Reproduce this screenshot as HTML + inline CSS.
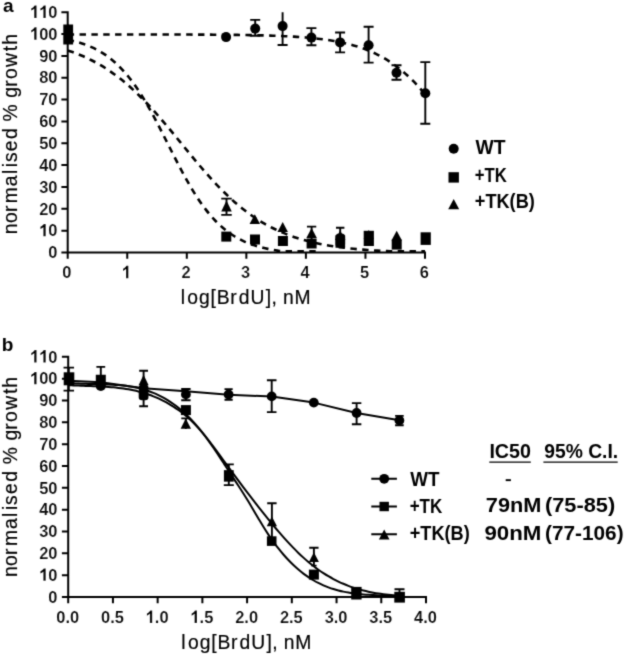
<!DOCTYPE html>
<html lang="en"><head><meta charset="utf-8"><title>BrdU dose response</title>
<style>html,body{margin:0;padding:0;background:#fff;}body{width:626px;height:656px;overflow:hidden;}svg{display:block;}svg text{font-family:"Liberation Sans", sans-serif;fill:#000;}</style>
</head><body>
<svg width="626" height="656" viewBox="0 0 626 656">
<defs><filter id="soft" x="0" y="0" width="626" height="656" filterUnits="userSpaceOnUse"><feConvolveMatrix order="3" kernelMatrix="1 4 1 4 20 4 1 4 1" divisor="40" edgeMode="none" preserveAlpha="false"/></filter></defs>
<rect x="0" y="0" width="626" height="656" fill="#fff"/>
<g filter="url(#soft)">
<g id="chart-a">
<g fill="none" stroke="#000" stroke-width="2.00" stroke-linecap="butt">
<path d="M67.70 11.20 V252.50 H426.00 M67.70 252.50 H61.40 M67.70 230.65 H61.40 M67.70 208.81 H61.40 M67.70 186.96 H61.40 M67.70 165.12 H61.40 M67.70 143.27 H61.40 M67.70 121.43 H61.40 M67.70 99.58 H61.40 M67.70 77.74 H61.40 M67.70 55.89 H61.40 M67.70 34.05 H61.40 M67.70 12.20 H61.40 M67.70 252.50 V258.80 M127.25 252.50 V258.80 M186.80 252.50 V258.80 M246.35 252.50 V258.80 M305.90 252.50 V258.80 M365.45 252.50 V258.80 M425.00 252.50 V258.80"/>
</g>
<g transform="translate(57.50 258.20) scale(0.9450 1)">
<text x="-9.68" y="0" font-size="17.40" font-weight="bold" stroke="#fff" stroke-width="0.12">0</text>
</g>
<g transform="translate(57.50 236.35) scale(0.9450 1)">
<text x="-9.68" y="0" font-size="17.40" font-weight="bold" stroke="#fff" stroke-width="0.12">0</text>
<path transform="translate(-19.35 0) scale(0.00850 -0.00850)" d="M806 0H518V1085Q360 937 147 867V1128Q259 1165 391 1267Q523 1369 572 1466H806Z" fill="#000" stroke="#fff" stroke-width="14.1"/>
</g>
<g transform="translate(57.50 214.51) scale(0.9450 1)">
<text x="-19.35 -9.68" y="0" font-size="17.40" font-weight="bold" stroke="#fff" stroke-width="0.12">20</text>
</g>
<g transform="translate(57.50 192.66) scale(0.9450 1)">
<text x="-19.35 -9.68" y="0" font-size="17.40" font-weight="bold" stroke="#fff" stroke-width="0.12">30</text>
</g>
<g transform="translate(57.50 170.82) scale(0.9450 1)">
<text x="-19.35 -9.68" y="0" font-size="17.40" font-weight="bold" stroke="#fff" stroke-width="0.12">40</text>
</g>
<g transform="translate(57.50 148.97) scale(0.9450 1)">
<text x="-19.35 -9.68" y="0" font-size="17.40" font-weight="bold" stroke="#fff" stroke-width="0.12">50</text>
</g>
<g transform="translate(57.50 127.13) scale(0.9450 1)">
<text x="-19.35 -9.68" y="0" font-size="17.40" font-weight="bold" stroke="#fff" stroke-width="0.12">60</text>
</g>
<g transform="translate(57.50 105.28) scale(0.9450 1)">
<text x="-19.35 -9.68" y="0" font-size="17.40" font-weight="bold" stroke="#fff" stroke-width="0.12">70</text>
</g>
<g transform="translate(57.50 83.44) scale(0.9450 1)">
<text x="-19.35 -9.68" y="0" font-size="17.40" font-weight="bold" stroke="#fff" stroke-width="0.12">80</text>
</g>
<g transform="translate(57.50 61.59) scale(0.9450 1)">
<text x="-19.35 -9.68" y="0" font-size="17.40" font-weight="bold" stroke="#fff" stroke-width="0.12">90</text>
</g>
<g transform="translate(57.50 39.75) scale(0.9450 1)">
<text x="-19.35 -9.68" y="0" font-size="17.40" font-weight="bold" stroke="#fff" stroke-width="0.12">00</text>
<path transform="translate(-29.03 0) scale(0.00850 -0.00850)" d="M806 0H518V1085Q360 937 147 867V1128Q259 1165 391 1267Q523 1369 572 1466H806Z" fill="#000" stroke="#fff" stroke-width="14.1"/>
</g>
<g transform="translate(57.50 17.90) scale(0.9450 1)">
<text x="-9.68" y="0" font-size="17.40" font-weight="bold" stroke="#fff" stroke-width="0.12">0</text>
<path transform="translate(-29.03 0) scale(0.00850 -0.00850)" d="M806 0H518V1085Q360 937 147 867V1128Q259 1165 391 1267Q523 1369 572 1466H806Z" fill="#000" stroke="#fff" stroke-width="14.1"/>
<path transform="translate(-19.35 0) scale(0.00850 -0.00850)" d="M806 0H518V1085Q360 937 147 867V1128Q259 1165 391 1267Q523 1369 572 1466H806Z" fill="#000" stroke="#fff" stroke-width="14.1"/>
</g>
<g transform="translate(66.90 278.30) scale(0.9450 1)">
<text x="-4.84" y="0" font-size="17.40" font-weight="bold" stroke="#fff" stroke-width="0.12">0</text>
</g>
<g transform="translate(126.45 278.30) scale(0.9450 1)">
<path transform="translate(-4.84 0) scale(0.00850 -0.00850)" d="M806 0H518V1085Q360 937 147 867V1128Q259 1165 391 1267Q523 1369 572 1466H806Z" fill="#000" stroke="#fff" stroke-width="14.1"/>
</g>
<g transform="translate(186.00 278.30) scale(0.9450 1)">
<text x="-4.84" y="0" font-size="17.40" font-weight="bold" stroke="#fff" stroke-width="0.12">2</text>
</g>
<g transform="translate(245.55 278.30) scale(0.9450 1)">
<text x="-4.84" y="0" font-size="17.40" font-weight="bold" stroke="#fff" stroke-width="0.12">3</text>
</g>
<g transform="translate(305.10 278.30) scale(0.9450 1)">
<text x="-4.84" y="0" font-size="17.40" font-weight="bold" stroke="#fff" stroke-width="0.12">4</text>
</g>
<g transform="translate(364.65 278.30) scale(0.9450 1)">
<text x="-4.84" y="0" font-size="17.40" font-weight="bold" stroke="#fff" stroke-width="0.12">5</text>
</g>
<g transform="translate(424.20 278.30) scale(0.9450 1)">
<text x="-4.84" y="0" font-size="17.40" font-weight="bold" stroke="#fff" stroke-width="0.12">6</text>
</g>
<g transform="translate(17.2 234.13) rotate(-90)">
<text x="0.00 11.06 22.04 30.94 47.85 60.03 66.99 72.04 82.88 95.08 106.00 112.75 131.00 136.43 147.29 155.06 167.10 182.87 189.27" y="0.00" font-size="19.30" font-weight="normal" stroke="#000" stroke-width="0.2" stroke-linejoin="round">normalised % growth</text>
</g>
<text x="180.65 187.18 198.95 210.61 216.68 230.21 238.75 250.53 265.83 271.62 277.00 283.12 294.56" y="304.40" font-size="19.30" font-weight="normal" stroke="#000" stroke-width="0.2" stroke-linejoin="round">log[BrdU], nM</text>
<text x="2.90" y="12.20" font-size="19.00" font-weight="bold" text-anchor="start" stroke="none">a</text>
<g fill="none" stroke="#000" stroke-width="2.6" stroke-dasharray="6.4 5.45">
<path d="M67.70 34.45 C68.69 34.45 71.67 34.45 73.66 34.45 C75.64 34.45 77.62 34.45 79.61 34.45 C81.59 34.45 83.58 34.45 85.56 34.45 C87.55 34.45 89.54 34.45 91.52 34.45 C93.51 34.45 95.49 34.46 97.47 34.46 C99.46 34.46 101.45 34.46 103.43 34.46 C105.42 34.46 107.40 34.46 109.38 34.46 C111.37 34.46 113.36 34.46 115.34 34.46 C117.33 34.46 119.31 34.46 121.29 34.47 C123.28 34.47 125.27 34.47 127.25 34.47 C129.24 34.47 131.22 34.47 133.20 34.47 C135.19 34.47 137.17 34.48 139.16 34.48 C141.15 34.48 143.13 34.48 145.12 34.48 C147.10 34.49 149.08 34.49 151.07 34.49 C153.06 34.49 155.04 34.49 157.03 34.50 C159.01 34.50 161.00 34.50 162.98 34.51 C164.97 34.51 166.95 34.51 168.94 34.52 C170.92 34.52 172.91 34.53 174.89 34.53 C176.88 34.54 178.86 34.54 180.85 34.55 C182.83 34.55 184.81 34.56 186.80 34.56 C188.79 34.57 190.77 34.58 192.76 34.58 C194.74 34.59 196.73 34.60 198.71 34.61 C200.70 34.62 202.68 34.63 204.67 34.64 C206.65 34.65 208.64 34.66 210.62 34.67 C212.61 34.69 214.59 34.70 216.58 34.71 C218.56 34.73 220.55 34.74 222.53 34.76 C224.52 34.78 226.50 34.80 228.49 34.82 C230.47 34.84 232.46 34.86 234.44 34.88 C236.43 34.91 238.41 34.93 240.40 34.96 C242.38 34.99 244.37 35.02 246.35 35.05 C248.34 35.08 250.32 35.12 252.31 35.16 C254.29 35.20 256.28 35.24 258.26 35.28 C260.25 35.33 262.23 35.38 264.22 35.43 C266.20 35.49 268.19 35.54 270.17 35.61 C272.16 35.67 274.14 35.74 276.13 35.81 C278.11 35.89 280.10 35.97 282.08 36.05 C284.07 36.14 286.05 36.23 288.04 36.34 C290.02 36.44 292.01 36.55 293.99 36.67 C295.98 36.79 297.96 36.92 299.95 37.06 C301.93 37.20 303.92 37.35 305.90 37.52 C307.89 37.68 309.87 37.86 311.86 38.05 C313.84 38.25 315.83 38.45 317.81 38.68 C319.80 38.91 321.78 39.15 323.77 39.42 C325.75 39.68 327.74 39.96 329.72 40.27 C331.70 40.59 333.69 40.92 335.67 41.28 C337.66 41.64 339.64 42.03 341.63 42.45 C343.61 42.87 345.60 43.32 347.58 43.81 C349.57 44.30 351.55 44.82 353.54 45.39 C355.52 45.95 357.51 46.56 359.49 47.22 C361.48 47.87 363.46 48.57 365.45 49.33 C367.43 50.09 369.42 50.89 371.40 51.76 C373.39 52.63 375.37 53.56 377.36 54.56 C379.34 55.55 381.33 56.61 383.31 57.75 C385.30 58.88 387.28 60.09 389.27 61.37 C391.25 62.66 393.24 64.03 395.22 65.48 C397.21 66.93 399.19 68.46 401.18 70.09 C403.16 71.72 405.15 73.43 407.13 75.24 C409.12 77.05 411.10 78.95 413.09 80.94 C415.07 82.94 417.06 85.03 419.04 87.21 C421.03 89.39 424.01 92.89 425.00 94.02"/>
<path d="M67.70 39.73 C68.49 39.91 70.88 40.40 72.46 40.78 C74.05 41.17 75.64 41.57 77.23 42.02 C78.82 42.47 80.40 42.95 81.99 43.47 C83.58 43.99 85.17 44.55 86.76 45.17 C88.34 45.78 89.93 46.43 91.52 47.14 C93.11 47.85 94.70 48.61 96.28 49.44 C97.87 50.27 99.46 51.15 101.05 52.10 C102.64 53.06 104.22 54.07 105.81 55.17 C107.40 56.27 108.99 57.44 110.58 58.70 C112.16 59.96 113.75 61.30 115.34 62.73 C116.93 64.16 118.52 65.68 120.10 67.30 C121.69 68.92 123.28 70.63 124.87 72.45 C126.46 74.27 128.04 76.19 129.63 78.21 C131.22 80.23 132.81 82.36 134.40 84.59 C135.98 86.82 137.57 89.15 139.16 91.58 C140.75 94.02 142.34 96.55 143.92 99.18 C145.51 101.80 147.10 104.53 148.69 107.32 C150.28 110.11 151.86 113.00 153.45 115.94 C155.04 118.88 156.63 121.91 158.22 124.96 C159.80 128.01 161.39 131.12 162.98 134.24 C164.57 137.36 166.16 140.53 167.74 143.68 C169.33 146.82 170.92 149.99 172.51 153.12 C174.10 156.25 175.68 159.38 177.27 162.44 C178.86 165.50 180.45 168.54 182.04 171.50 C183.62 174.46 185.21 177.37 186.80 180.19 C188.39 183.01 189.98 185.76 191.56 188.41 C193.15 191.06 194.74 193.63 196.33 196.09 C197.92 198.55 199.50 200.92 201.09 203.18 C202.68 205.44 204.27 207.60 205.86 209.65 C207.44 211.70 209.03 213.65 210.62 215.50 C212.21 217.35 213.80 219.09 215.38 220.74 C216.97 222.39 218.56 223.93 220.15 225.39 C221.74 226.85 223.32 228.22 224.91 229.50 C226.50 230.79 228.09 231.98 229.68 233.10 C231.26 234.22 232.85 235.26 234.44 236.24 C236.03 237.21 237.62 238.11 239.20 238.96 C240.79 239.80 242.38 240.58 243.97 241.31 C245.56 242.04 247.14 242.70 248.73 243.33 C250.32 243.96 251.91 244.53 253.50 245.07 C255.08 245.60 256.67 246.09 258.26 246.55 C259.85 247.01 261.44 247.42 263.02 247.82 C264.61 248.21 266.20 248.56 267.79 248.89 C269.38 249.23 270.96 249.53 272.55 249.81 C274.14 250.10 275.73 250.36 277.32 250.59 C278.90 250.82 280.49 251.10 282.08 251.20 C283.67 251.30 285.26 251.20 286.84 251.20 C288.43 251.20 290.02 251.20 291.61 251.20 C293.20 251.20 294.78 251.20 296.37 251.20 C297.96 251.20 299.55 251.20 301.14 251.20 C302.72 251.20 304.31 251.20 305.90 251.20 C307.49 251.20 309.08 251.20 310.66 251.20 C312.25 251.20 313.84 251.20 315.43 251.20 C317.02 251.20 319.40 251.20 320.19 251.20"/>
<path d="M67.70 50.45 C68.49 50.72 70.88 51.52 72.46 52.09 C74.05 52.66 75.64 53.25 77.23 53.87 C78.82 54.50 80.40 55.15 81.99 55.82 C83.58 56.50 85.17 57.21 86.76 57.95 C88.34 58.69 89.93 59.46 91.52 60.26 C93.11 61.07 94.70 61.90 96.28 62.77 C97.87 63.64 99.46 64.55 101.05 65.49 C102.64 66.43 104.22 67.41 105.81 68.42 C107.40 69.44 108.99 70.49 110.58 71.58 C112.16 72.67 113.75 73.80 115.34 74.97 C116.93 76.14 118.52 77.34 120.10 78.59 C121.69 79.84 123.28 81.13 124.87 82.46 C126.46 83.78 128.04 85.15 129.63 86.56 C131.22 87.96 132.81 89.41 134.40 90.89 C135.98 92.38 137.57 93.90 139.16 95.46 C140.75 97.02 142.34 98.62 143.92 100.25 C145.51 101.88 147.10 103.55 148.69 105.25 C150.28 106.95 151.86 108.68 153.45 110.44 C155.04 112.20 156.63 113.99 158.22 115.81 C159.80 117.62 161.39 119.46 162.98 121.32 C164.57 123.18 166.16 125.06 167.74 126.96 C169.33 128.85 170.92 130.77 172.51 132.69 C174.10 134.61 175.68 136.54 177.27 138.48 C178.86 140.42 180.45 142.37 182.04 144.31 C183.62 146.25 185.21 148.20 186.80 150.13 C188.39 152.07 189.98 154.00 191.56 155.92 C193.15 157.84 194.74 159.75 196.33 161.64 C197.92 163.54 199.50 165.42 201.09 167.27 C202.68 169.12 204.27 170.96 205.86 172.77 C207.44 174.58 209.03 176.36 210.62 178.12 C212.21 179.87 213.80 181.60 215.38 183.29 C216.97 184.98 218.56 186.64 220.15 188.27 C221.74 189.89 223.32 191.48 224.91 193.04 C226.50 194.59 228.09 196.10 229.68 197.58 C231.26 199.06 232.85 200.50 234.44 201.90 C236.03 203.29 237.62 204.65 239.20 205.97 C240.79 207.29 242.38 208.57 243.97 209.81 C245.56 211.05 247.14 212.25 248.73 213.41 C250.32 214.57 251.91 215.69 253.50 216.78 C255.08 217.86 256.67 218.90 258.26 219.91 C259.85 220.92 261.44 221.89 263.02 222.82 C264.61 223.76 266.20 224.65 267.79 225.52 C269.38 226.38 270.96 227.21 272.55 228.01 C274.14 228.80 275.73 229.57 277.32 230.30 C278.90 231.03 280.49 231.74 282.08 232.41 C283.67 233.08 285.26 233.73 286.84 234.34 C288.43 234.96 290.02 235.55 291.61 236.11 C293.20 236.68 294.78 237.22 296.37 237.73 C297.96 238.25 299.55 238.74 301.14 239.21 C302.72 239.68 304.31 240.13 305.90 240.56 C307.49 240.99 309.08 241.39 310.66 241.78 C312.25 242.17 313.84 242.54 315.43 242.90 C317.02 243.25 318.60 243.59 320.19 243.91 C321.78 244.23 323.37 244.54 324.96 244.83 C326.54 245.12 328.13 245.40 329.72 245.66 C331.31 245.92 332.90 246.17 334.48 246.41 C336.07 246.65 337.66 246.88 339.25 247.10 C340.84 247.31 342.42 247.52 344.01 247.71 C345.60 247.91 347.19 248.09 348.78 248.27 C350.36 248.45 351.95 248.61 353.54 248.77 C355.13 248.93 356.72 249.08 358.30 249.23 C359.89 249.37 361.48 249.51 363.07 249.64 C364.66 249.77 366.24 249.89 367.83 250.01 C369.42 250.12 371.01 250.24 372.60 250.34 C374.18 250.45 375.77 250.55 377.36 250.64 C378.95 250.74 380.54 250.83 382.12 250.91 C383.71 251.00 385.30 251.11 386.89 251.16 C388.48 251.21 390.06 251.19 391.65 251.20 C393.24 251.21 394.83 251.20 396.42 251.20 C398.00 251.20 399.59 251.20 401.18 251.20 C402.77 251.20 404.36 251.20 405.94 251.20 C407.53 251.20 409.12 251.20 410.71 251.20 C412.30 251.20 413.88 251.20 415.47 251.20 C417.06 251.20 418.65 251.20 420.24 251.20 C421.82 251.20 424.21 251.20 425.00 251.20"/>
</g>
<g fill="#000" stroke="none">
<rect x="63.30" y="24.50" width="9.80" height="20.00"/>
<path fill="none" stroke="#000" stroke-width="1.90" d="M68.00 24.50 V44.00"/>
<circle cx="226.10" cy="37.10" r="5.00"/>
<path fill="none" stroke="#000" stroke-width="1.90" d="M255.20 19.90 V35.80 M250.20 19.90 H260.20 M250.20 35.80 H260.20"/>
<circle cx="255.20" cy="28.60" r="5.00"/>
<path fill="none" stroke="#000" stroke-width="1.90" d="M282.60 12.30 V45.00 M277.60 45.00 H287.60"/>
<circle cx="282.60" cy="26.10" r="5.00"/>
<path fill="none" stroke="#000" stroke-width="1.90" d="M311.40 28.10 V45.20 M306.40 28.10 H316.40 M306.40 45.20 H316.40"/>
<circle cx="311.40" cy="37.60" r="5.00"/>
<path fill="none" stroke="#000" stroke-width="1.90" d="M340.10 32.50 V52.40 M335.10 32.50 H345.10 M335.10 52.40 H345.10"/>
<circle cx="340.10" cy="42.40" r="5.00"/>
<path fill="none" stroke="#000" stroke-width="1.90" d="M368.60 26.80 V62.60 M363.60 26.80 H373.60 M363.60 62.60 H373.60"/>
<circle cx="368.60" cy="45.20" r="5.00"/>
<path fill="none" stroke="#000" stroke-width="1.90" d="M396.50 65.20 V79.70 M391.50 65.20 H401.50 M391.50 79.70 H401.50"/>
<circle cx="396.50" cy="72.80" r="5.00"/>
<path fill="none" stroke="#000" stroke-width="1.90" d="M425.30 62.10 V123.70 M420.30 62.10 H430.30 M420.30 123.70 H430.30"/>
<circle cx="425.30" cy="93.30" r="5.00"/>
<path fill="none" stroke="#000" stroke-width="1.90" d="M226.50 198.60 V214.90 M221.25 198.60 H231.75 M221.25 214.90 H231.75"/>
<path d="M226.50 200.50 L231.75 211.50 L221.25 211.50 Z"/>
<path d="M254.80 214.30 L260.05 223.90 L249.55 223.90 Z"/>
<path d="M282.70 221.90 L287.95 231.90 L277.45 231.90 Z"/>
<path fill="none" stroke="#000" stroke-width="1.90" d="M311.60 226.60 V240.00 M306.95 226.60 H316.25"/>
<path d="M311.60 228.00 L316.85 238.00 L306.35 238.00 Z"/>
<path fill="none" stroke="#000" stroke-width="1.90" d="M340.20 227.80 V240.00 M336.00 227.80 H344.40"/>
<path d="M340.20 230.50 L345.45 240.00 L334.95 240.00 Z"/>
<path d="M368.80 230.00 L374.05 239.00 L363.55 239.00 Z"/>
<path d="M396.70 230.70 L401.95 240.50 L391.45 240.50 Z"/>
<rect x="221.30" y="231.60" width="10.00" height="10.00"/>
<rect x="250.00" y="234.50" width="10.00" height="10.00"/>
<rect x="277.90" y="236.00" width="10.00" height="10.00"/>
<rect x="306.60" y="238.50" width="10.00" height="10.00"/>
<rect x="335.50" y="235.25" width="9.60" height="12.50"/>
<rect x="335.5" y="233.5" width="9.6" height="14" rx="3.5"/>
<rect x="363.70" y="230.80" width="10.20" height="15.20"/>
<rect x="391.70" y="239.60" width="10.00" height="10.00"/>
<rect x="420.60" y="232.30" width="10.20" height="12.60"/>
</g>
<g fill="#000">
<circle cx="453.70" cy="148.80" r="5.00"/>
<rect x="448.50" y="172.20" width="10.40" height="10.40"/>
<path d="M453.70 199.10 L459.20 209.30 L448.20 209.30 Z"/>
</g>
<text x="475.60" y="153.80" font-size="20.00" font-weight="bold" text-anchor="start" textLength="30.00" lengthAdjust="spacingAndGlyphs">WT</text>
<text x="474.80" y="182.20" font-size="20.00" font-weight="bold" text-anchor="start" textLength="32.00" lengthAdjust="spacingAndGlyphs">+TK</text>
<text x="474.80" y="208.30" font-size="20.00" font-weight="bold" text-anchor="start" textLength="60.00" lengthAdjust="spacingAndGlyphs">+TK(B)</text>
</g>
<g id="chart-b">
<g fill="none" stroke="#000" stroke-width="2.00" stroke-linecap="butt">
<path d="M68.20 355.80 V597.00 H427.00 M68.20 597.00 H61.90 M68.20 575.16 H61.90 M68.20 553.33 H61.90 M68.20 531.49 H61.90 M68.20 509.65 H61.90 M68.20 487.82 H61.90 M68.20 465.98 H61.90 M68.20 444.15 H61.90 M68.20 422.31 H61.90 M68.20 400.47 H61.90 M68.20 378.64 H61.90 M68.20 356.80 H61.90 M68.20 597.00 V603.30 M112.93 597.00 V603.30 M157.65 597.00 V603.30 M202.38 597.00 V603.30 M247.10 597.00 V603.30 M291.82 597.00 V603.30 M336.55 597.00 V603.30 M381.27 597.00 V603.30 M426.00 597.00 V603.30"/>
</g>
<g transform="translate(57.50 602.70) scale(0.9450 1)">
<text x="-9.68" y="0" font-size="17.40" font-weight="bold" stroke="#fff" stroke-width="0.12">0</text>
</g>
<g transform="translate(57.50 580.86) scale(0.9450 1)">
<text x="-9.68" y="0" font-size="17.40" font-weight="bold" stroke="#fff" stroke-width="0.12">0</text>
<path transform="translate(-19.35 0) scale(0.00850 -0.00850)" d="M806 0H518V1085Q360 937 147 867V1128Q259 1165 391 1267Q523 1369 572 1466H806Z" fill="#000" stroke="#fff" stroke-width="14.1"/>
</g>
<g transform="translate(57.50 559.03) scale(0.9450 1)">
<text x="-19.35 -9.68" y="0" font-size="17.40" font-weight="bold" stroke="#fff" stroke-width="0.12">20</text>
</g>
<g transform="translate(57.50 537.19) scale(0.9450 1)">
<text x="-19.35 -9.68" y="0" font-size="17.40" font-weight="bold" stroke="#fff" stroke-width="0.12">30</text>
</g>
<g transform="translate(57.50 515.35) scale(0.9450 1)">
<text x="-19.35 -9.68" y="0" font-size="17.40" font-weight="bold" stroke="#fff" stroke-width="0.12">40</text>
</g>
<g transform="translate(57.50 493.52) scale(0.9450 1)">
<text x="-19.35 -9.68" y="0" font-size="17.40" font-weight="bold" stroke="#fff" stroke-width="0.12">50</text>
</g>
<g transform="translate(57.50 471.68) scale(0.9450 1)">
<text x="-19.35 -9.68" y="0" font-size="17.40" font-weight="bold" stroke="#fff" stroke-width="0.12">60</text>
</g>
<g transform="translate(57.50 449.85) scale(0.9450 1)">
<text x="-19.35 -9.68" y="0" font-size="17.40" font-weight="bold" stroke="#fff" stroke-width="0.12">70</text>
</g>
<g transform="translate(57.50 428.01) scale(0.9450 1)">
<text x="-19.35 -9.68" y="0" font-size="17.40" font-weight="bold" stroke="#fff" stroke-width="0.12">80</text>
</g>
<g transform="translate(57.50 406.17) scale(0.9450 1)">
<text x="-19.35 -9.68" y="0" font-size="17.40" font-weight="bold" stroke="#fff" stroke-width="0.12">90</text>
</g>
<g transform="translate(57.50 384.34) scale(0.9450 1)">
<text x="-19.35 -9.68" y="0" font-size="17.40" font-weight="bold" stroke="#fff" stroke-width="0.12">00</text>
<path transform="translate(-29.03 0) scale(0.00850 -0.00850)" d="M806 0H518V1085Q360 937 147 867V1128Q259 1165 391 1267Q523 1369 572 1466H806Z" fill="#000" stroke="#fff" stroke-width="14.1"/>
</g>
<g transform="translate(57.50 362.50) scale(0.9450 1)">
<text x="-9.68" y="0" font-size="17.40" font-weight="bold" stroke="#fff" stroke-width="0.12">0</text>
<path transform="translate(-29.03 0) scale(0.00850 -0.00850)" d="M806 0H518V1085Q360 937 147 867V1128Q259 1165 391 1267Q523 1369 572 1466H806Z" fill="#000" stroke="#fff" stroke-width="14.1"/>
<path transform="translate(-19.35 0) scale(0.00850 -0.00850)" d="M806 0H518V1085Q360 937 147 867V1128Q259 1165 391 1267Q523 1369 572 1466H806Z" fill="#000" stroke="#fff" stroke-width="14.1"/>
</g>
<g transform="translate(67.70 623.00) scale(0.9450 1)">
<text x="-12.09 -2.42 2.42" y="0" font-size="17.40" font-weight="bold" stroke="#fff" stroke-width="0.12">0.0</text>
</g>
<g transform="translate(112.43 623.00) scale(0.9450 1)">
<text x="-12.09 -2.42 2.42" y="0" font-size="17.40" font-weight="bold" stroke="#fff" stroke-width="0.12">0.5</text>
</g>
<g transform="translate(157.15 623.00) scale(0.9450 1)">
<text x="-2.42 2.42" y="0" font-size="17.40" font-weight="bold" stroke="#fff" stroke-width="0.12">.0</text>
<path transform="translate(-12.09 0) scale(0.00850 -0.00850)" d="M806 0H518V1085Q360 937 147 867V1128Q259 1165 391 1267Q523 1369 572 1466H806Z" fill="#000" stroke="#fff" stroke-width="14.1"/>
</g>
<g transform="translate(201.88 623.00) scale(0.9450 1)">
<text x="-2.42 2.42" y="0" font-size="17.40" font-weight="bold" stroke="#fff" stroke-width="0.12">.5</text>
<path transform="translate(-12.09 0) scale(0.00850 -0.00850)" d="M806 0H518V1085Q360 937 147 867V1128Q259 1165 391 1267Q523 1369 572 1466H806Z" fill="#000" stroke="#fff" stroke-width="14.1"/>
</g>
<g transform="translate(246.60 623.00) scale(0.9450 1)">
<text x="-12.09 -2.42 2.42" y="0" font-size="17.40" font-weight="bold" stroke="#fff" stroke-width="0.12">2.0</text>
</g>
<g transform="translate(291.32 623.00) scale(0.9450 1)">
<text x="-12.09 -2.42 2.42" y="0" font-size="17.40" font-weight="bold" stroke="#fff" stroke-width="0.12">2.5</text>
</g>
<g transform="translate(336.05 623.00) scale(0.9450 1)">
<text x="-12.09 -2.42 2.42" y="0" font-size="17.40" font-weight="bold" stroke="#fff" stroke-width="0.12">3.0</text>
</g>
<g transform="translate(380.77 623.00) scale(0.9450 1)">
<text x="-12.09 -2.42 2.42" y="0" font-size="17.40" font-weight="bold" stroke="#fff" stroke-width="0.12">3.5</text>
</g>
<g transform="translate(425.50 623.00) scale(0.9450 1)">
<text x="-12.09 -2.42 2.42" y="0" font-size="17.40" font-weight="bold" stroke="#fff" stroke-width="0.12">4.0</text>
</g>
<g transform="translate(17.2 576.93) rotate(-90)">
<text x="0.00 11.06 22.04 30.94 47.85 60.03 66.99 72.04 82.88 95.08 106.00 112.75 131.00 136.43 147.29 155.06 167.10 182.87 189.27" y="0.00" font-size="19.30" font-weight="normal" stroke="#000" stroke-width="0.2" stroke-linejoin="round">normalised % growth</text>
</g>
<text x="181.35 187.88 199.65 211.31 217.38 230.91 239.45 251.23 266.53 272.32 277.70 283.82 295.26" y="648.90" font-size="19.30" font-weight="normal" stroke="#000" stroke-width="0.2" stroke-linejoin="round">log[BrdU], nM</text>
<text x="1.80" y="351.30" font-size="19.00" font-weight="bold" text-anchor="start" stroke="none">b</text>
<g fill="none" stroke="#000" stroke-width="2.0" stroke-linejoin="round">
<path d="M68.40 380.70 L100.80 382.30 L143.60 388.30 L185.90 391.20 L228.60 394.70 L271.70 396.50 L313.80 402.60 L356.50 413.00 L399.40 420.30"/>
<path d="M68.40 382.70 C69.23 382.78 71.73 383.03 73.40 383.17 C75.07 383.30 76.73 383.41 78.40 383.51 C80.07 383.60 81.73 383.68 83.40 383.75 C85.07 383.82 86.73 383.87 88.40 383.92 C90.07 383.97 91.73 384.01 93.40 384.06 C95.07 384.10 96.73 384.14 98.40 384.18 C100.07 384.22 101.73 384.26 103.40 384.32 C105.07 384.37 106.73 384.43 108.40 384.50 C110.07 384.57 111.73 384.66 113.40 384.76 C115.07 384.86 116.73 384.98 118.40 385.12 C120.07 385.26 121.73 385.42 123.40 385.61 C125.07 385.80 126.73 386.01 128.40 386.26 C130.07 386.50 131.73 386.78 133.40 387.09 C135.07 387.41 136.73 387.75 138.40 388.14 C140.07 388.54 141.73 388.96 143.40 389.44 C145.07 389.92 146.73 390.44 148.40 391.01 C150.07 391.58 151.73 392.20 153.40 392.88 C155.07 393.56 156.73 394.29 158.40 395.08 C160.07 395.87 161.73 396.72 163.40 397.64 C165.07 398.56 166.73 399.53 168.40 400.58 C170.07 401.64 171.73 402.75 173.40 403.95 C175.07 405.14 176.73 406.40 178.40 407.75 C180.07 409.09 181.73 410.51 183.40 412.01 C185.07 413.51 186.73 415.08 188.40 416.74 C190.07 418.40 191.73 420.13 193.40 421.95 C195.07 423.77 196.73 425.67 198.40 427.65 C200.07 429.63 201.73 431.70 203.40 433.85 C205.07 436.00 206.73 438.25 208.40 440.56 C210.07 442.87 211.73 445.27 213.40 447.71 C215.07 450.14 216.73 452.65 218.40 455.17 C220.07 457.69 221.73 460.26 223.40 462.81 C225.07 465.37 226.73 467.96 228.40 470.51 C230.07 473.07 231.73 475.61 233.40 478.15 C235.07 480.68 236.73 483.18 238.40 485.73 C240.07 488.28 241.73 490.83 243.40 493.46 C245.07 496.09 246.73 498.78 248.40 501.53 C250.07 504.28 251.73 507.14 253.40 509.97 C255.07 512.79 256.73 515.68 258.40 518.49 C260.07 521.29 261.73 524.11 263.40 526.79 C265.07 529.48 266.73 532.10 268.40 534.60 C270.07 537.10 271.73 539.50 273.40 541.81 C275.07 544.12 276.73 546.33 278.40 548.45 C280.07 550.57 281.73 552.59 283.40 554.52 C285.07 556.46 286.73 558.30 288.40 560.06 C290.07 561.82 291.73 563.48 293.40 565.07 C295.07 566.65 296.73 568.15 298.40 569.57 C300.07 570.99 301.73 572.32 303.40 573.58 C305.07 574.84 306.73 576.02 308.40 577.13 C310.07 578.24 311.73 579.28 313.40 580.25 C315.07 581.23 316.73 582.13 318.40 582.97 C320.07 583.82 321.73 584.60 323.40 585.32 C325.07 586.05 326.73 586.72 328.40 587.34 C330.07 587.95 331.73 588.52 333.40 589.04 C335.07 589.56 336.73 590.03 338.40 590.46 C340.07 590.89 341.73 591.28 343.40 591.63 C345.07 591.98 346.73 592.30 348.40 592.58 C350.07 592.87 351.73 593.12 353.40 593.35 C355.07 593.58 356.73 593.77 358.40 593.95 C360.07 594.13 361.73 594.29 363.40 594.43 C365.07 594.57 366.73 594.70 368.40 594.81 C370.07 594.93 371.73 595.02 373.40 595.12 C375.07 595.22 376.73 595.31 378.40 595.39 C380.07 595.48 381.73 595.57 383.40 595.66 C385.07 595.75 386.73 595.84 388.40 595.95 C390.07 596.05 391.73 596.18 393.40 596.29 C395.07 596.40 397.38 596.55 398.40 596.60 C399.42 596.65 399.32 596.60 399.50 596.60"/>
<path d="M68.40 385.14 C69.23 385.18 71.73 385.33 73.40 385.41 C75.07 385.49 76.73 385.56 78.40 385.62 C80.07 385.69 81.73 385.75 83.40 385.81 C85.07 385.86 86.73 385.92 88.40 385.98 C90.07 386.04 91.73 386.09 93.40 386.16 C95.07 386.22 96.73 386.29 98.40 386.37 C100.07 386.44 101.73 386.53 103.40 386.62 C105.07 386.72 106.73 386.83 108.40 386.95 C110.07 387.08 111.73 387.21 113.40 387.37 C115.07 387.52 116.73 387.70 118.40 387.89 C120.07 388.09 121.73 388.30 123.40 388.55 C125.07 388.79 126.73 389.05 128.40 389.35 C130.07 389.65 131.73 389.97 133.40 390.32 C135.07 390.68 136.73 391.06 138.40 391.48 C140.07 391.91 141.73 392.36 143.40 392.86 C145.07 393.35 146.73 393.88 148.40 394.46 C150.07 395.03 151.73 395.65 153.40 396.31 C155.07 396.97 156.73 397.67 158.40 398.43 C160.07 399.19 161.73 399.99 163.40 400.84 C165.07 401.70 166.73 402.60 168.40 403.56 C170.07 404.52 171.73 405.54 173.40 406.61 C175.07 407.69 176.73 408.82 178.40 410.02 C180.07 411.22 181.73 412.48 183.40 413.82 C185.07 415.16 186.73 416.57 188.40 418.08 C190.07 419.58 191.73 421.17 193.40 422.84 C195.07 424.52 196.73 426.29 198.40 428.13 C200.07 429.97 201.73 431.89 203.40 433.89 C205.07 435.88 206.73 437.95 208.40 440.07 C210.07 442.19 211.73 444.39 213.40 446.61 C215.07 448.82 216.73 451.10 218.40 453.36 C220.07 455.63 221.73 457.94 223.40 460.23 C225.07 462.51 226.73 464.80 228.40 467.08 C230.07 469.35 231.73 471.62 233.40 473.88 C235.07 476.13 236.73 478.38 238.40 480.62 C240.07 482.85 241.73 485.08 243.40 487.29 C245.07 489.50 246.73 491.70 248.40 493.89 C250.07 496.08 251.73 498.25 253.40 500.41 C255.07 502.57 256.73 504.72 258.40 506.84 C260.07 508.97 261.73 511.09 263.40 513.18 C265.07 515.28 266.73 517.35 268.40 519.41 C270.07 521.46 271.73 523.49 273.40 525.49 C275.07 527.49 276.73 529.47 278.40 531.41 C280.07 533.35 281.73 535.26 283.40 537.14 C285.07 539.01 286.73 540.85 288.40 542.65 C290.07 544.44 291.73 546.20 293.40 547.91 C295.07 549.62 296.73 551.29 298.40 552.91 C300.07 554.53 301.73 556.10 303.40 557.62 C305.07 559.13 306.73 560.60 308.40 562.00 C310.07 563.41 311.73 564.75 313.40 566.04 C315.07 567.34 316.73 568.57 318.40 569.75 C320.07 570.94 321.73 572.06 323.40 573.14 C325.07 574.22 326.73 575.25 328.40 576.23 C330.07 577.21 331.73 578.13 333.40 579.02 C335.07 579.90 336.73 580.74 338.40 581.54 C340.07 582.33 341.73 583.08 343.40 583.79 C345.07 584.51 346.73 585.17 348.40 585.81 C350.07 586.44 351.73 587.03 353.40 587.59 C355.07 588.14 356.73 588.66 358.40 589.15 C360.07 589.64 361.73 590.09 363.40 590.51 C365.07 590.94 366.73 591.33 368.40 591.69 C370.07 592.06 371.73 592.39 373.40 592.70 C375.07 593.01 376.73 593.29 378.40 593.55 C380.07 593.81 381.73 594.04 383.40 594.26 C385.07 594.47 386.73 594.66 388.40 594.84 C390.07 595.01 391.73 595.17 393.40 595.31 C395.07 595.45 397.38 595.60 398.40 595.68 C399.42 595.75 399.32 595.74 399.50 595.75"/>
</g>
<g fill="#000" stroke="none">
<path fill="none" stroke="#000" stroke-width="1.90" d="M68.80 367.60 V390.60 M63.55 367.60 H74.05 M63.55 390.60 H74.05"/>
<rect x="63.70" y="372.30" width="10.60" height="13.00"/>
<path fill="none" stroke="#000" stroke-width="1.90" d="M100.80 366.90 V388.00 M96.40 366.90 H105.20"/>
<rect x="95.80" y="374.75" width="10.00" height="10.50"/>
<circle cx="100.80" cy="386.00" r="5.10"/>
<path fill="none" stroke="#000" stroke-width="1.90" d="M143.60 370.70 V406.30 M139.20 370.70 H148.00 M139.20 406.30 H148.00"/>
<path d="M143.60 374.80 L148.60 385.30 L138.60 385.30 Z"/>
<circle cx="143.60" cy="388.30" r="5.00"/>
<rect x="138.7" y="389.0" width="9.8" height="11.2" rx="3.2"/>
<path fill="none" stroke="#000" stroke-width="1.90" d="M185.90 389.00 V400.30 M181.20 389.00 H190.60 M181.20 400.30 H190.60"/>
<circle cx="185.90" cy="394.40" r="4.90"/>
<rect x="180.90" y="405.10" width="10.00" height="10.00"/>
<path fill="none" stroke="#000" stroke-width="1.90" d="M185.80 418.40 V429.00 M181.30 418.40 H190.30"/>
<path d="M185.80 418.40 L191.00 428.80 L180.60 428.80 Z"/>
<path fill="none" stroke="#000" stroke-width="1.90" d="M228.60 389.10 V399.70 M224.50 389.10 H232.70 M224.50 399.70 H232.70"/>
<circle cx="228.60" cy="394.50" r="4.90"/>
<path fill="none" stroke="#000" stroke-width="1.90" d="M228.80 464.40 V485.10 M223.80 464.40 H233.80 M223.80 485.10 H233.80"/>
<rect x="223.90" y="470.15" width="9.80" height="11.50"/>
<path fill="none" stroke="#000" stroke-width="1.90" d="M271.70 380.30 V412.10 M266.90 380.30 H276.50 M266.90 412.10 H276.50"/>
<circle cx="271.70" cy="396.40" r="4.90"/>
<path fill="none" stroke="#000" stroke-width="1.90" d="M271.90 503.30 V541.00 M267.20 503.30 H276.60"/>
<path d="M271.90 516.40 L277.00 526.30 L266.80 526.30 Z"/>
<rect x="266.90" y="536.30" width="9.60" height="9.60"/>
<circle cx="313.80" cy="402.60" r="4.90"/>
<path fill="none" stroke="#000" stroke-width="1.90" d="M313.90 547.80 V566.00 M309.25 547.80 H318.55"/>
<path d="M313.90 552.20 L318.90 562.00 L308.90 562.00 Z"/>
<path fill="none" stroke="#000" stroke-width="1.6" d="M311.2 565.6 H316.6"/>
<rect x="308.90" y="569.60" width="10.00" height="10.00"/>
<path fill="none" stroke="#000" stroke-width="1.90" d="M356.60 403.10 V424.30 M351.85 403.10 H361.35 M351.85 424.30 H361.35"/>
<circle cx="356.60" cy="413.00" r="4.90"/>
<rect x="351.20" y="586.90" width="10.40" height="12.60"/>
<path fill="none" stroke="#000" stroke-width="1.90" d="M399.40 415.90 V425.20 M395.10 415.90 H403.70 M395.10 425.20 H403.70"/>
<circle cx="399.40" cy="420.40" r="4.90"/>
<path fill="none" stroke="#000" stroke-width="1.90" d="M399.50 589.30 V597.00 M394.50 589.30 H404.50"/>
<rect x="394.30" y="591.80" width="10.60" height="10.80"/>
</g>
<g fill="#000">
<path fill="none" stroke="#000" stroke-width="1.9" d="M371.3 478.8 H396.9 M371.3 506.5 H396.9 M371.3 534.3 H396.9"/>
<circle cx="384.20" cy="478.80" r="4.90"/>
<rect x="379.50" y="501.80" width="9.40" height="9.40"/>
<path d="M384.20 529.60 L389.50 539.60 L378.90 539.60 Z"/>
</g>
<text x="410.30" y="485.90" font-size="19.40" font-weight="bold" text-anchor="start" textLength="29.20" lengthAdjust="spacingAndGlyphs">WT</text>
<text x="409.70" y="512.80" font-size="19.40" font-weight="bold" text-anchor="start" textLength="32.60" lengthAdjust="spacingAndGlyphs">+TK</text>
<text x="409.70" y="540.40" font-size="19.40" font-weight="bold" text-anchor="start" textLength="60.00" lengthAdjust="spacingAndGlyphs">+TK(B)</text>
<text x="489.40" y="458.00" font-size="19.40" font-weight="bold" text-anchor="start" textLength="41.60" lengthAdjust="spacingAndGlyphs">IC50</text>
<text x="544.20" y="458.00" font-size="19.40" font-weight="bold" text-anchor="start" textLength="74.00" lengthAdjust="spacingAndGlyphs">95% C.I.</text>
<path fill="none" stroke="#000" stroke-width="1.3" d="M489.3 462.1 H530.8 M543.4 462.1 H617.7"/>
<rect x="505.7" y="479.2" width="5.2" height="1.9" fill="#000"/>
<text x="485.80" y="512.30" font-size="19.40" font-weight="bold" text-anchor="start" textLength="55.60" lengthAdjust="spacingAndGlyphs">79nM</text>
<text x="545.00" y="512.30" font-size="19.40" font-weight="bold" text-anchor="start" textLength="70.20" lengthAdjust="spacingAndGlyphs">(75-85)</text>
<text x="484.40" y="539.70" font-size="19.40" font-weight="bold" text-anchor="start" textLength="57.00" lengthAdjust="spacingAndGlyphs">90nM</text>
<text x="545.00" y="539.70" font-size="19.40" font-weight="bold" text-anchor="start" textLength="78.60" lengthAdjust="spacingAndGlyphs">(77-106)</text>
</g>
</g>
</svg>
</body></html>
